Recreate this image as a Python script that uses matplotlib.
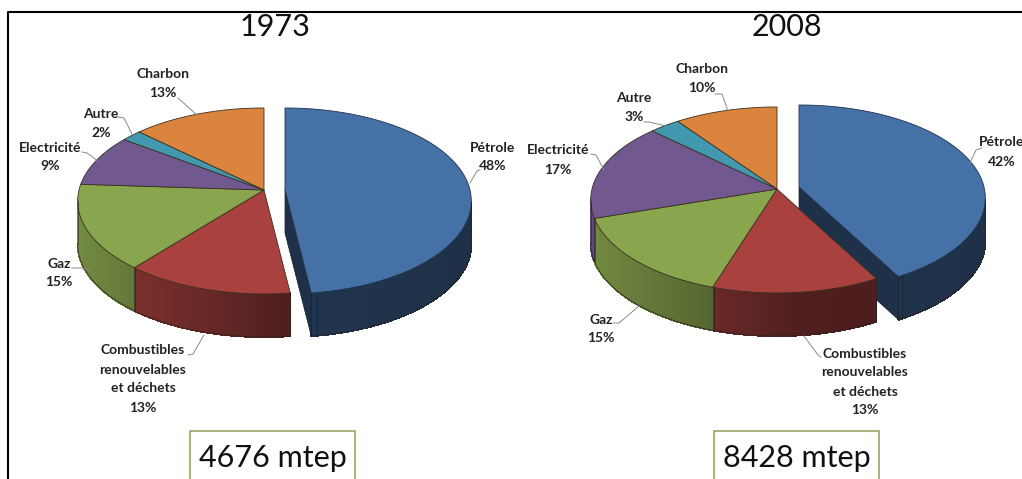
import numpy as np
import matplotlib
matplotlib.use("Agg")
import matplotlib.pyplot as plt
from matplotlib.collections import PolyCollection
from matplotlib.patches import Rectangle

plt.rcParams['font.family'] = ['Lato', 'DejaVu Sans']

# Data
categories = ["Pétrole", "Combustibles\nrenouvelables\net déchets", "Gaz", "Electricité", "Autre", "Charbon"]
valeurs_1973 = [48, 13, 15, 9, 2, 13]
valeurs_2008 = [42, 13, 15, 17, 3, 10]
totaux = ["4676 mtep", "8428 mtep"]
annees = ["1973", "2008"]

couleurs = ["#4571A7", "#A9423F", "#89A54E", "#71588F", "#4198AF", "#DB843D"]

# Layout, en pixels de l'image
RX, RY, K, PROF = 185, 91.7, 0.118, 43
centres = [(264, 190), (777, 189)]
decalages = [(21, 0), (22, -2)]
pos_titres = [(275, 27), (787, 27)]
boites = [(190, 431), (714, 431)]
pos_labels = [
    [(493, 157), (143, 379), (59, 273), (50, 157), (101, 123), (163, 83)],
    [(1002, 152), (865, 382), (601, 329), (558, 160), (634, 107), (702, 78)],
]
guides = [
    [[(480, 170), (477, 171), (470, 183)], [(188, 355), (193, 354), (204, 335)],
     [(72, 268), (83, 268), (90, 271)], [(82, 152), (87, 153), (98, 161)],
     [(118, 117), (124, 118), (132, 134)], [(178, 98), (197, 115)]],
    [[(982, 148), (976, 150), (970, 163)], [(821, 357), (818, 355), (804, 336)],
     [(613, 323), (619, 323), (639, 306)], [(591, 154), (596, 155), (604, 170)],
     [(644, 122), (649, 122), (666, 126)], [(715, 94), (722, 94), (728, 111)]],
]


def projeter(angle, cx, cy):
    # disque vu en perspective, le haut du disque est plus loin
    s = np.sin(angle)
    c = np.cos(angle)
    return cx + RX * c / (1 + K * s), cy - RY * s / (1 + K * s)


def ombre(couleur, angle):
    f = np.interp(np.cos(angle), [-1, -0.3, 0.1, 1], [0.85, 0.62, 0.47, 0.43])
    return tuple(np.array(matplotlib.colors.to_rgb(couleur)) * f)


def dessiner_part(ax, a0, a1, couleur, cx, cy):
    angles = np.linspace(a0, a1, 120)
    x, y = projeter(angles, cx, cy)
    # paroi, seulement la partie visible
    quads, cols = [], []
    for i in range(len(angles) - 1):
        if np.sin(angles[i]) < -K:
            quads.append([(x[i], y[i]), (x[i + 1], y[i + 1]),
                          (x[i + 1], y[i + 1] + PROF), (x[i], y[i] + PROF)])
            cols.append(ombre(couleur, angles[i]))
    if quads:
        ax.add_collection(PolyCollection(quads, facecolors=cols, edgecolors=cols,
                                         linewidths=0.8, antialiaseds=False))
        bas = np.array([q[2] for q in quads])
        ax.plot(bas[:, 0], bas[:, 1], color="#30201c", lw=0.5)
        for q in (quads[0], quads[-1]):
            ax.plot([q[0][0], q[3][0]], [q[0][1], q[3][1]], color="#20201c", lw=0.4)
    return x, y


def dessiner_camembert(ax, valeurs, centre, decalage):
    cx, cy = centre
    bords = np.pi / 2 - np.cumsum([0] + valeurs) / 100 * 2 * np.pi

    # la part détachée d'abord, avec sa face coupée
    dx, dy = decalage
    x, y = dessiner_part(ax, bords[0], bords[1], couleurs[0], cx + dx, cy + dy)
    ax.fill([cx + dx, x[-1], x[-1], cx + dx], [cy + dy, y[-1], y[-1] + PROF, cy + dy + PROF],
            color=ombre(couleurs[0], 0), ec="#15202c", lw=0.5)
    ax.fill(np.r_[cx + dx, x], np.r_[cy + dy, y], fc=couleurs[0], ec="#1f3350", lw=0.6)

    for i in range(1, len(valeurs)):
        dessiner_part(ax, bords[i], bords[i + 1], couleurs[i], cx, cy)
    for i in range(1, len(valeurs)):
        x, y = projeter(np.linspace(bords[i], bords[i + 1], 120), cx, cy)
        ax.fill(np.r_[cx, x], np.r_[cy, y], fc=couleurs[i], ec="#3a3020", lw=0.6)


fig = plt.figure(figsize=(10.22, 4.79), dpi=100)
ax = fig.add_axes([0, 0, 1, 1])
ax.set_xlim(0, 1022)
ax.set_ylim(479, 0)
ax.axis("off")

# cadre noir, ouvert à droite et en bas
ax.plot([8, 8, 1022], [479, 12, 12], color="black", lw=1.5)

series = [valeurs_1973, valeurs_2008]
for n in range(2):
    dessiner_camembert(ax, series[n], centres[n], decalages[n])
    ax.text(*pos_titres[n], annees[n], fontsize=22, ha="center", va="center", color="#111111")

    for i, cat in enumerate(categories):
        ax.plot(*zip(*guides[n][i]), color="#8a8a8a", lw=0.7)
        ax.text(*pos_labels[n][i], f"{cat}\n{series[n][i]}%", fontsize=10, fontweight="bold",
                ha="center", va="center", linespacing=1.7, color="#222222")

    bx, by = boites[n]
    ax.add_patch(Rectangle((bx, by), 165, 60, fc="white", ec="#8F9F55", lw=1.1))
    ax.text(bx + 83, 458, totaux[n], fontsize=22, ha="center", va="center", color="#111111")

fig.savefig("out.png", dpi=100)
